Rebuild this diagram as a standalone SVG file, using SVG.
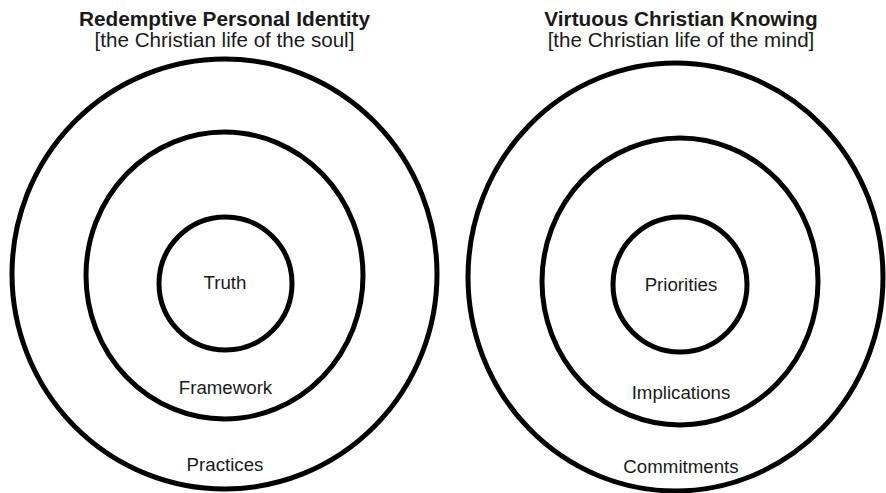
<svg xmlns="http://www.w3.org/2000/svg" width="886" height="493" viewBox="0 0 886 493">
<style>
.ring{fill:none;stroke:#000;stroke-width:5}
.t{font-family:"Liberation Sans",Arial,Helvetica,sans-serif;fill:#1a1a1a;text-anchor:middle}
.title{font-size:20.8px;font-weight:bold}
.sub{font-size:20.6px}
.lab{font-size:18.7px}
</style>
<rect width="886" height="493" fill="#fff"/>
<g id="left-header">
<text class="t title" x="224.5" y="26">Redemptive Personal Identity</text>
<text class="t sub" x="224.5" y="47">[the Christian life of the soul]</text>
</g>
<g id="left-outer">
<ellipse class="ring" cx="224.5" cy="274" rx="212.5" ry="215"/>
<text class="t lab" x="225" y="471">Practices</text>
</g>
<g id="left-middle">
<ellipse class="ring" cx="224.5" cy="275.5" rx="138.5" ry="143.5"/>
<text class="t lab" x="225.5" y="394">Framework</text>
</g>
<g id="left-inner">
<ellipse class="ring" cx="225.5" cy="283.5" rx="66.5" ry="66.5"/>
<text class="t lab" x="225" y="289">Truth</text>
</g>
<g id="right-header">
<text class="t title" x="681" y="26">Virtuous Christian Knowing</text>
<text class="t sub" x="681" y="47">[the Christian life of the mind]</text>
</g>
<g id="right-outer">
<ellipse class="ring" cx="675.5" cy="277" rx="207.5" ry="214"/>
<text class="t lab" x="681" y="473">Commitments</text>
</g>
<g id="right-middle">
<ellipse class="ring" cx="680" cy="281.5" rx="138" ry="143.5"/>
<text class="t lab" x="681" y="399">Implications</text>
</g>
<g id="right-inner">
<ellipse class="ring" cx="680" cy="284.5" rx="67" ry="67.5"/>
<text class="t lab" x="681" y="291">Priorities</text>
</g>
<g id="connectors"/>
</svg>
